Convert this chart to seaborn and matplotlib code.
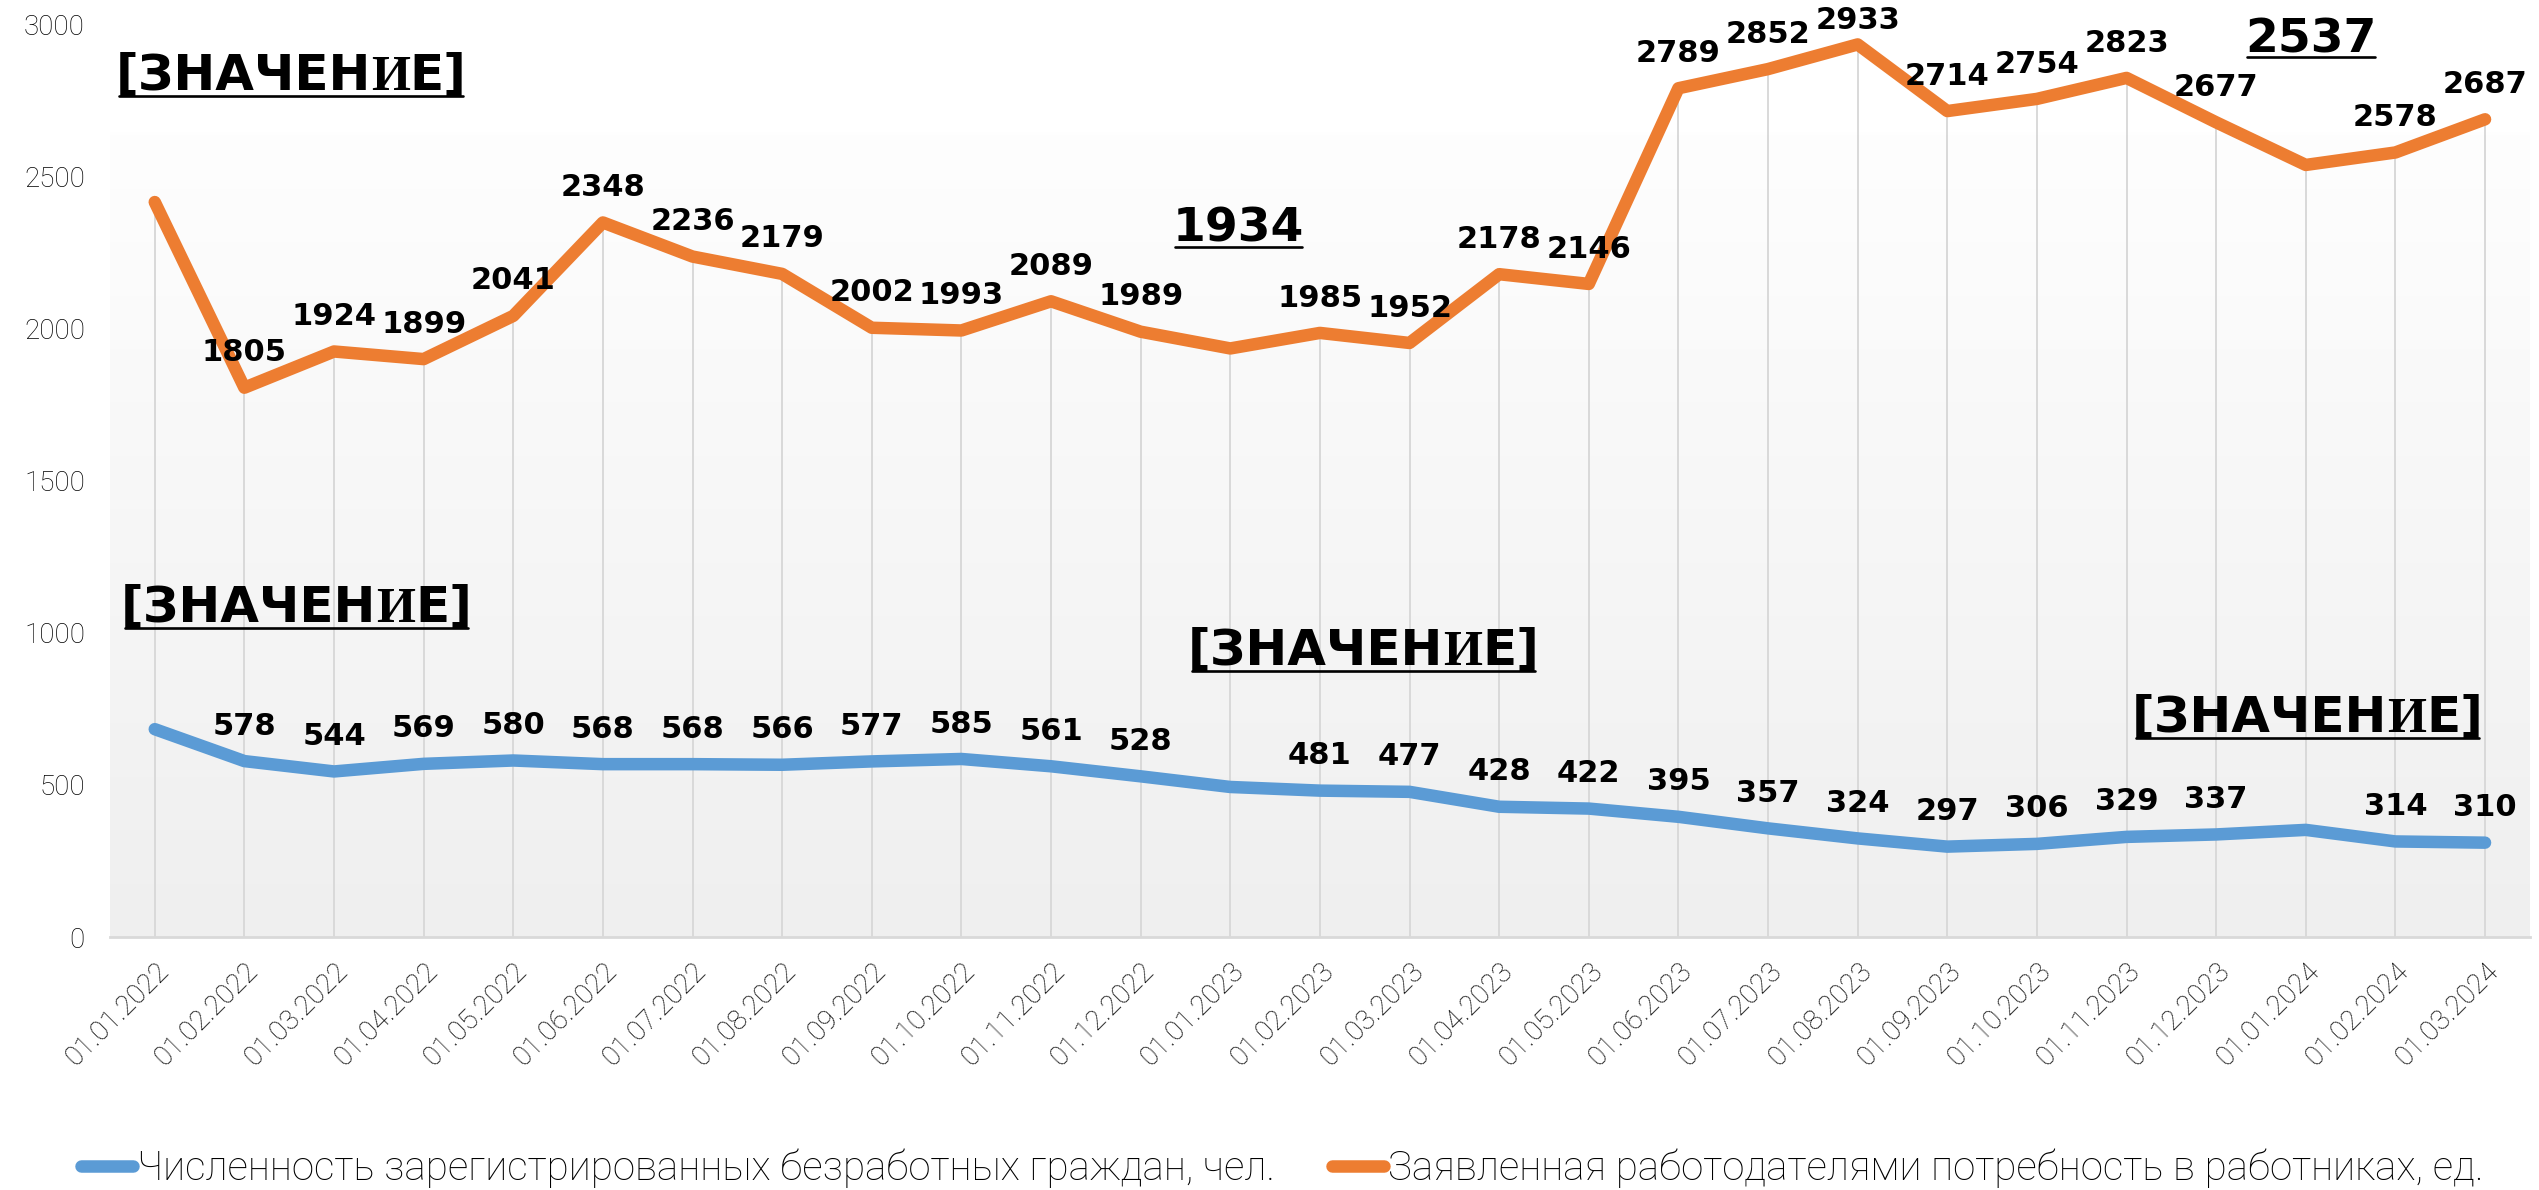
import numpy as np
import pandas as pd
import seaborn as sns
import matplotlib.pyplot as plt
from matplotlib.lines import Line2D
from matplotlib.colors import LinearSegmentedColormap
from matplotlib.transforms import IdentityTransform

dates = ['01.01.2022', '01.02.2022', '01.03.2022', '01.04.2022', '01.05.2022', '01.06.2022',
         '01.07.2022', '01.08.2022', '01.09.2022', '01.10.2022', '01.11.2022', '01.12.2022',
         '01.01.2023', '01.02.2023', '01.03.2023', '01.04.2023', '01.05.2023', '01.06.2023',
         '01.07.2023', '01.08.2023', '01.09.2023', '01.10.2023', '01.11.2023', '01.12.2023',
         '01.01.2024', '01.02.2024', '01.03.2024']
unemployed = [683, 578, 544, 569, 580, 568, 568, 566, 577, 585, 561, 528, 493, 481, 477, 428,
              422, 395, 357, 324, 297, 306, 329, 337, 352, 314, 310]
vacancies = [2415, 1805, 1924, 1899, 2041, 2348, 2236, 2179, 2002, 1993, 2089, 1989, 1934, 1985,
             1952, 2178, 2146, 2789, 2852, 2933, 2714, 2754, 2823, 2677, 2537, 2578, 2687]
name_unemp = 'Численность зарегистрированных безработных граждан, чел.'
name_vac = 'Заявленная работодателями потребность в работниках, ед.'
y_ticks = [0, 500, 1000, 1500, 2000, 2500, 3000]

# labels that Excel moved / broke: (series, index) -> (x, baseline y)
moved_labels = {
    ('vac', 0): (1.52, 2783), ('vac', 12): (12.09, 2284), ('vac', 24): (24.06, 2908),
    ('unemp', 0): (1.58, 1035), ('unemp', 12): (13.49, 894), ('unemp', 24): (24.02, 674),
}
placeholder_keys = [('vac', 0), ('unemp', 0), ('unemp', 12), ('unemp', 24)]
underlined_keys = [('vac', 12), ('vac', 24)]
# labels pushed down to stay inside the chart: (series, index) -> offset in points
label_offsets = {('vac', 19): 11}

BLUE = '#5B9BD5'
ORANGE = '#ED7D31'
GRID = '#d9d9d9'
BG_TOP = 2642

sns.set_style('white')
plt.rcParams['font.family'] = ['DejaVu Sans']
plt.rcParams['text.color'] = 'black'

n = len(dates)
pos = np.arange(n)
df = pd.DataFrame({'pos': np.concatenate([pos, pos]),
                   'value': unemployed + vacancies,
                   'series': [name_unemp] * n + [name_vac] * n})

fig = plt.figure(figsize=(25.39, 11.90), dpi=100)
ax = fig.add_axes([0.0433, 0.2126, 0.9531, 0.7672])
ax.set_facecolor('none')

cmap = LinearSegmentedColormap.from_list('bg', ['#efefef', '#fefefe'])
ax.imshow(np.linspace(0, 1, 256).reshape(-1, 1), extent=(-0.5, n - 0.5, 0, BG_TOP),
          aspect='auto', cmap=cmap, origin='lower', zorder=0)

ax.vlines(pos, 0, vacancies, color=GRID, lw=1.4, zorder=1)
sns.lineplot(data=df[df['series'] == name_unemp], x='pos', y='value', color=BLUE, lw=9,
             solid_capstyle='round', solid_joinstyle='round', legend=False, ax=ax, zorder=2)
sns.lineplot(data=df[df['series'] == name_vac], x='pos', y='value', color=ORANGE, lw=9,
             solid_capstyle='round', solid_joinstyle='round', legend=False, ax=ax, zorder=4)

ax.set_xlim(-0.5, n - 0.5)
ax.set_ylim(0, 3000)
ax.set_xlabel('')
ax.set_ylabel('')
for s in ['top', 'right', 'left']:
    ax.spines[s].set_visible(False)
ax.spines['bottom'].set_color(GRID)
ax.spines['bottom'].set_linewidth(2)

ax.set_xticks(pos)
ax.set_xticklabels(dates, rotation=45, ha='right', rotation_mode='anchor',
                   family='Roboto', weight='light', fontsize=20, color='black')
ax.set_xticks(np.arange(-0.5, n, 1), minor=True)
ax.tick_params(axis='x', which='major', length=0, pad=15)
ax.tick_params(axis='x', which='minor', length=6, width=1.5, color=GRID, direction='out')
ax.set_yticks(y_ticks)
ax.set_yticklabels([str(v) for v in y_ticks], family='Roboto', weight='light', fontsize=20,
                   color='black')
ax.tick_params(axis='y', length=0, pad=18)

renderer = fig.canvas.get_renderer()


def underline(x0, x1, y):
    fig.add_artist(Line2D([x0, x1], [y, y], color='black', lw=1.9, transform=IdentityTransform()))


def placeholder(x, y, size=36):
    parts = [('[ЗНАЧЕН', 'DejaVu Sans'), ('И', 'Liberation Serif'), ('Е]', 'DejaVu Sans')]
    cx, cy = ax.transData.transform((x, y))
    texts, widths = [], []
    for s, fam in parts:
        t = fig.text(0, 0, s, family=fam, weight='bold', fontsize=size, va='baseline',
                     ha='left', color='black', transform=IdentityTransform(), zorder=6)
        widths.append(t.get_window_extent(renderer).width)
        texts.append(t)
    left = cx - sum(widths) / 2
    start = left
    for t, w in zip(texts, widths):
        t.set_position((left, cy))
        left += w
    underline(start + 4, left - 4, cy - 6)


def big_number(x, y, text, size=34):
    t = ax.text(x, y, text, fontsize=size, weight='bold', ha='center', va='baseline',
                color='black', zorder=6)
    bb = t.get_window_extent(renderer)
    cx, cy = ax.transData.transform((x, y))
    underline(bb.x0 + 2, bb.x1 - 2, cy - 5)


for key, vals in [('unemp', unemployed), ('vac', vacancies)]:
    for i, v in enumerate(vals):
        if (key, i) in placeholder_keys:
            placeholder(*moved_labels[(key, i)])
        elif (key, i) in underlined_keys:
            big_number(*moved_labels[(key, i)], str(v))
        else:
            ax.annotate(str(v), xy=(i, v), xytext=(0, label_offsets.get((key, i), 19)),
                        textcoords='offset points', ha='center', va='baseline',
                        fontsize=22, weight='bold', color='black', zorder=6)

handles = [Line2D([], [], color=BLUE, lw=9, solid_capstyle='round'),
           Line2D([], [], color=ORANGE, lw=9, solid_capstyle='round')]
fig.legend(handles, [name_unemp, name_vac], loc='center', bbox_to_anchor=(0.505, 0.018),
           ncol=2, frameon=False, handlelength=1.3, handletextpad=0.1, columnspacing=1.4,
           labelcolor='black', prop={'family': 'Roboto', 'weight': 'light', 'size': 29})

fig.savefig('out.png', dpi=100)
